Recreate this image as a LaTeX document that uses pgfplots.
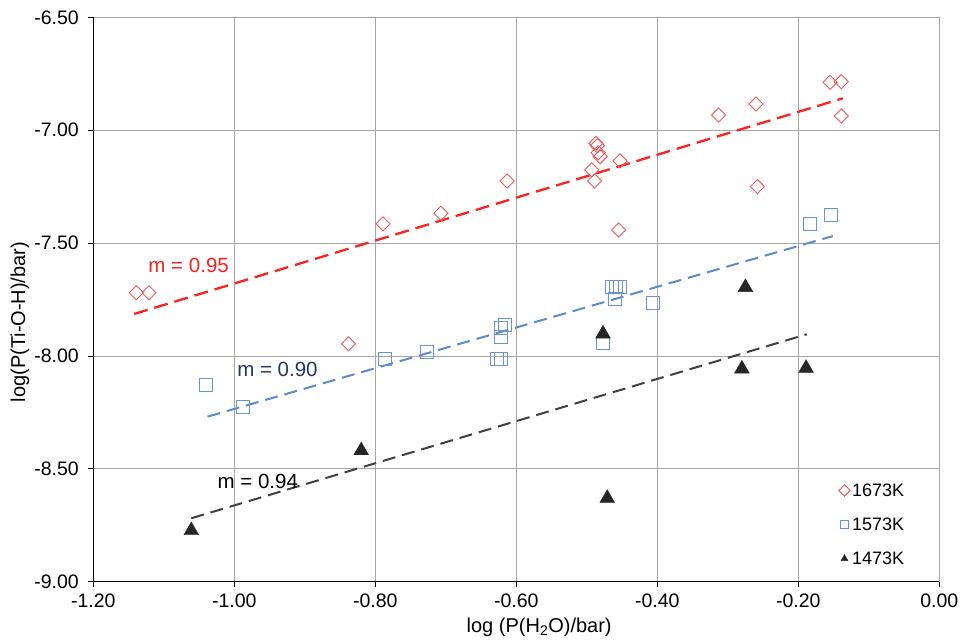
\documentclass[border=0pt]{standalone}
\usepackage{pgfplots}
\pgfplotsset{compat=1.18}
\usepackage{fontspec}
\setmainfont{Liberation Sans}
\definecolor{redline}{HTML}{FF2020}
\definecolor{redmark}{HTML}{F05A5A}
\definecolor{blueline}{HTML}{5B8BC9}
\definecolor{bluemark}{HTML}{6A94CC}
\definecolor{navy}{HTML}{1F3864}
\definecolor{tri}{HTML}{262626}
\definecolor{blackline}{HTML}{404040}
\definecolor{gridc}{HTML}{A6A6A6}
\begin{document}
\begin{tikzpicture}
\path[use as bounding box] (-93.3pt,-61.3pt) rectangle (869.7pt,581.7pt);
\begin{axis}[
  at={(0pt,0pt)}, anchor=south west,
  scale only axis, width=846pt, height=564.4pt,
  xmin=-1.2, xmax=0, ymin=-9, ymax=-6.5,
  xtick={-1.2,-1.0,-0.8,-0.6,-0.4,-0.2,0},
  ytick={-9,-8.5,-8,-7.5,-7,-6.5},
  grid=major, major grid style={gridc, line width=0.8pt},
  axis lines*=left,
  axis line style={-, black, line width=0.9pt},
  tick align=outside, major tick length=5pt,
  tick style={black, line width=0.8pt},
  /pgf/number format/assume math mode=true,
  /pgf/number format/.cd, fixed, fixed zerofill, precision=2, /pgfplots/.cd,
  ticklabel style={font=\fontsize{19.5}{21}\selectfont},
  xticklabel style={yshift=-4pt},
  yticklabel style={xshift=-6pt},
  xlabel={log (P(H\textsubscript{2}O)/bar)},
  ylabel={log(P(Ti-O-H)/bar)},
  label style={font=\fontsize{20}{22}\selectfont},
  xlabel style={at={(axis description cs:0.527,-0.0815)}, anchor=center},
  ylabel style={at={(axis description cs:-0.0866,0.46)}, anchor=center, rotate=0},
  legend style={draw=none, fill=none, at={(axis description cs:0.881,0.178)}, anchor=north west,
    font=\fontsize{18}{20}\selectfont, row sep=16pt, inner sep=0pt},
  legend cell align=left,
  legend image code/.code={\draw[#1, mark size=4pt] plot coordinates {(0.15cm,0cm)};},
]
% 1673K
\addplot[only marks, mark=square, mark size=5pt, mark options={rotate=45, draw=redmark, line width=0.9pt, fill=none}]
coordinates {
(-1.139,-7.720) (-1.121,-7.720) (-0.789,-7.415) (-0.707,-7.368) (-0.613,-7.225)
(-0.838,-7.946) (-0.487,-7.058) (-0.485,-7.069) (-0.484,-7.100) (-0.481,-7.117)
(-0.453,-7.136) (-0.493,-7.176) (-0.489,-7.225) (-0.455,-7.442) (-0.313,-6.933)
(-0.260,-6.884) (-0.258,-7.250) (-0.155,-6.788) (-0.139,-6.785) (-0.139,-6.937)
};
\addlegendentry{1673K}
% 1573K
\addplot[only marks, mark=square, mark size=6.5pt, mark options={draw=bluemark, line width=0.9pt, fill=none}]
coordinates {
(-1.040,-8.130) (-0.988,-8.224) (-0.787,-8.015) (-0.727,-7.982) (-0.628,-8.012)
(-0.622,-8.012) (-0.622,-7.915) (-0.622,-7.877) (-0.616,-7.863) (-0.465,-7.696)
(-0.458,-7.696) (-0.453,-7.696) (-0.460,-7.749) (-0.406,-7.767) (-0.184,-7.417)
(-0.154,-7.376) (-0.477,-7.944)
};
\addlegendentry{1573K}
% 1473K
\addplot[only marks, mark=triangle*, mark size=8.5pt, mark options={draw=tri, fill=tri}]
coordinates {
(-1.061,-8.773) (-0.820,-8.419) (-0.477,-7.902) (-0.471,-8.630) (-0.280,-8.057)
(-0.189,-8.054) (-0.275,-7.696)
};
\addlegendentry{1473K}
% trend lines
\addplot[forget plot, redline, line width=2.3pt, dash pattern=on 14pt off 7pt] coordinates {(-1.142,-7.814) (-0.137,-6.859)};
\addplot[forget plot, blueline, line width=2pt, dash pattern=on 13pt off 7pt] coordinates {(-1.038,-8.269) (-0.151,-7.469)};
\addplot[forget plot, blackline, line width=2pt, dash pattern=on 13pt off 7pt] coordinates {(-1.061,-8.719) (-0.188,-7.904)};
\node[anchor=west, text=redline, font=\fontsize{20.5}{22}\selectfont, inner sep=0pt] at (axis cs:-1.122,-7.601) {m = 0.95};
\node[anchor=west, text=navy, font=\fontsize{20.5}{22}\selectfont, inner sep=0pt] at (axis cs:-0.996,-8.062) {m = 0.90};
\node[anchor=west, text=black, font=\fontsize{20.5}{22}\selectfont, inner sep=0pt] at (axis cs:-1.024,-8.554) {m = 0.94};
\end{axis}
\end{tikzpicture}
\end{document}
